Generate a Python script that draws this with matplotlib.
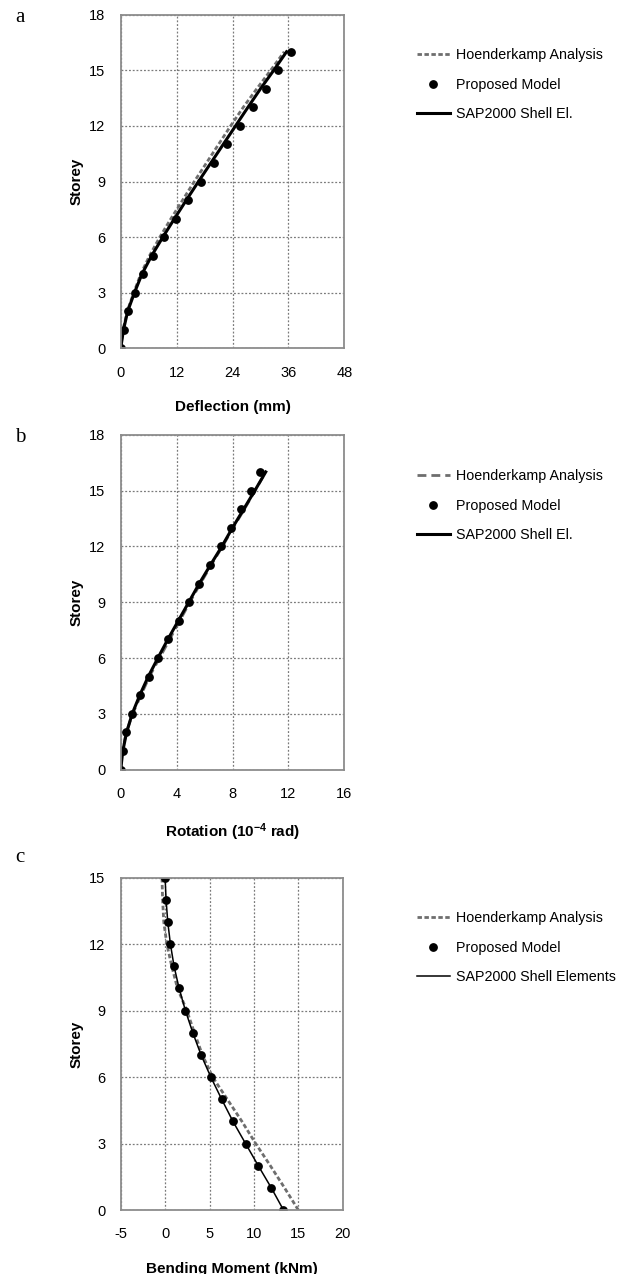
import matplotlib
matplotlib.use("Agg")
import matplotlib.pyplot as plt

plt.rcParams['font.family'] = ['Liberation Sans', 'DejaVu Sans']
plt.rcParams['mathtext.fontset'] = 'custom'
plt.rcParams['mathtext.bf'] = 'Liberation Sans:bold'
plt.rcParams['mathtext.rm'] = 'Liberation Sans:bold'
plt.rcParams['mathtext.default'] = 'bf'
plt.rcParams['axes.unicode_minus'] = False

# ---- Data ----
storey_a = list(range(0, 17))
hoend_a = [0, 0.5, 1.4, 2.8, 4.3, 6.2, 8.4, 10.8, 13.3, 15.8, 18.4, 21.0, 23.6, 26.3, 29.2, 32.2, 35.1]
prop_a = [0.05, 0.7, 1.6, 3.06, 4.71, 6.9, 9.3, 11.9, 14.55, 17.28, 20.0, 22.8, 25.57, 28.33, 31.1, 33.85, 36.5]
sap_a = [0, 0.6, 1.5, 2.95, 4.55, 6.65, 9.05, 11.55, 14.1, 16.7, 19.35, 22.0, 24.65, 27.3, 30.0, 32.85, 35.6]

storey_b = list(range(0, 17))
hoend_b = [0, 0.1, 0.4, 0.85, 1.45, 2.05, 2.78, 3.5, 4.22, 4.95, 5.7, 6.48, 7.28, 8.05, 8.85, 9.62, 10.38]
prop_b = [0.02, 0.19, 0.4, 0.81, 1.38, 2.0, 2.69, 3.35, 4.14, 4.88, 5.62, 6.4, 7.17, 7.9, 8.6, 9.29, 9.97]
sap_b = [0, 0.15, 0.42, 0.82, 1.36, 1.97, 2.66, 3.37, 4.12, 4.87, 5.62, 6.42, 7.24, 8.0, 8.8, 9.6, 10.38]

storey_c = list(range(0, 16))
hoend_c = [15.0, 13.45, 11.85, 10.2, 8.65, 7.0, 5.35, 4.2, 3.3, 2.45, 1.4, 0.75, 0.2, -0.15, -0.28, -0.35]
prop_c = [13.33, 11.96, 10.49, 9.06, 7.64, 6.37, 5.15, 4.05, 3.12, 2.29, 1.58, 1.01, 0.6, 0.3, 0.11, 0.0]
sap_c = [13.33, 11.96, 10.49, 9.06, 7.64, 6.37, 5.15, 4.05, 3.12, 2.29, 1.58, 1.01, 0.6, 0.3, 0.11, 0.0]

xticks_a = [0, 12, 24, 36, 48]
xticks_b = [0, 4, 8, 12, 16]
xticks_c = [-5, 0, 5, 10, 15, 20]
yticks_ab = [0, 3, 6, 9, 12, 15, 18]
yticks_c = [0, 3, 6, 9, 12, 15]

labels_a = ["Hoenderkamp Analysis", "Proposed Model", "SAP2000 Shell El."]
labels_c = ["Hoenderkamp Analysis", "Proposed Model", "SAP2000 Shell Elements"]

W, H = 621, 1274
fig = plt.figure(figsize=(W / 100, H / 100), dpi=100)

def px_axes(left, top, right, bottom):
    return fig.add_axes([left / W, 1 - bottom / H, (right - left) / W, (bottom - top) / H])

ax_a = px_axes(120.7, 14.7, 344.3, 348.3)
ax_b = px_axes(120.7, 434.7, 344.3, 769.7)
ax_c = px_axes(120.7, 877.7, 342.7, 1210.0)

GRAY = '#6e6e6e'
SPINE = '#8c8c8c'

def style(ax, xticks, yticks, xlabel):
    ax.set_xlim(xticks[0], xticks[-1])
    ax.set_ylim(yticks[0], yticks[-1])
    ax.set_xticks(xticks)
    ax.set_yticks(yticks)
    ax.grid(True, color='#7a7a7a', linestyle=(0, (1.5, 1.5)), linewidth=0.9)
    ax.set_axisbelow(True)
    for s in ax.spines.values():
        s.set_color(SPINE)
        s.set_linewidth(1.3)
    ax.tick_params(length=0, labelsize=10.5, colors='black')
    ax.tick_params(axis='y', pad=11)
    ax.tick_params(axis='x', pad=12.5)
    ax.set_ylabel("Storey", fontsize=11, fontweight='bold', labelpad=4)
    ax.set_xlabel(xlabel, fontsize=11, fontweight='bold', labelpad=14.5)

def legend(ax, handles, labels, top_px):
    ax.legend(handles, labels, loc='upper left', frameon=False,
              bbox_to_anchor=(417 / W, 1 - top_px / H), bbox_transform=fig.transFigure,
              borderpad=0, borderaxespad=0, handlelength=2.3, handletextpad=0.45,
              labelspacing=1.1, fontsize=10.3, numpoints=1)

MS = 5.3

# Panel a
h1, = ax_a.plot(hoend_a, storey_a, color=GRAY, lw=2.0, linestyle=(0, (1.6, 0.9)))
h3, = ax_a.plot(sap_a, storey_a, color='black', lw=2.2)
h2, = ax_a.plot(prop_a, storey_a, 'o', color='black', ms=MS, linestyle='none')
style(ax_a, xticks_a, yticks_ab, "Deflection (mm)")
legend(ax_a, [h1, h2, h3], labels_a, 48)

# Panel b
h1, = ax_b.plot(hoend_b, storey_b, color=GRAY, lw=2.0, linestyle=(0, (3.2, 1.8)))
h3, = ax_b.plot(sap_b, storey_b, color='black', lw=2.2)
h2, = ax_b.plot(prop_b, storey_b, 'o', color='black', ms=MS, linestyle='none')
style(ax_b, xticks_b, yticks_ab, r"Rotation (10$^{-4}$ rad)")
legend(ax_b, [h1, h2, h3], labels_a, 469)

# Panel c
h1, = ax_c.plot(hoend_c, storey_c, color=GRAY, lw=2.0, linestyle=(0, (1.6, 0.9)))
h3, = ax_c.plot(sap_c, storey_c, color='black', lw=1.1)
h2, = ax_c.plot(prop_c, storey_c, 'o', color='black', ms=MS, linestyle='none')
style(ax_c, xticks_c, yticks_c, "Bending Moment (kNm)")
legend(ax_c, [h1, h2, h3], labels_c, 911)

for letter, ypx in [("a", 17), ("b", 437), ("c", 858)]:
    fig.text(15 / W, 1 - ypx / H, letter, family='Liberation Serif', fontsize=15,
             ha='left', va='center')

fig.savefig("out.png", dpi=100)
